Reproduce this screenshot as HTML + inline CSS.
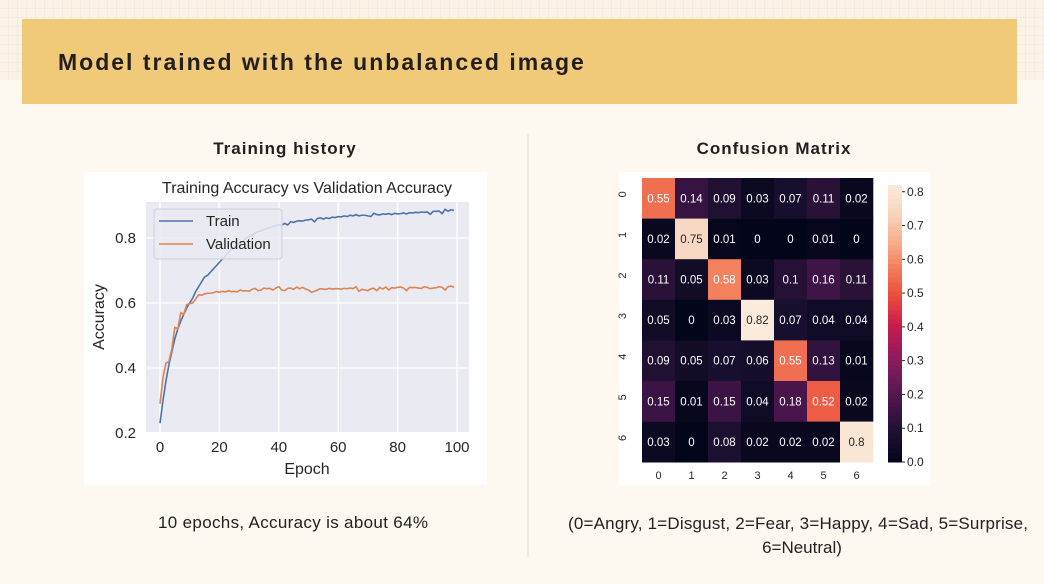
<!DOCTYPE html>
<html><head><meta charset="utf-8"><style>
body{margin:0;width:1044px;height:584px;background:#fdf9f1;overflow:hidden;font-family:"Liberation Sans",sans-serif}
svg{display:block}
</style></head><body>
<svg width="1044" height="584">
<defs>
<pattern id="grid" width="9" height="9" patternUnits="userSpaceOnUse"><path d="M9 0V9H0" fill="none" stroke="#efe3dc" stroke-width="1"/></pattern>
</defs>
<rect x="0" y="0" width="1044" height="80" fill="#fbf3e6"/>
<rect x="0" y="0" width="1044" height="80" fill="url(#grid)"/>
<rect x="22" y="19" width="995" height="85" fill="#f0ca78"/>
<text x="58" y="70" font-size="23" font-weight="bold" fill="#231f20" letter-spacing="2">Model trained with the unbalanced image</text>
<line x1="528" y1="134" x2="528" y2="557" stroke="#e2ddd5"/>
<text x="285" y="154" font-size="17" font-weight="bold" fill="#231f20" text-anchor="middle" letter-spacing="1">Training history</text>
<text x="774" y="154" font-size="17" font-weight="bold" fill="#231f20" text-anchor="middle" letter-spacing="1">Confusion Matrix</text>
<text x="293" y="528" font-size="17" fill="#222" text-anchor="middle" textLength="270">10 epochs, Accuracy is about 64%</text>
<text x="798" y="529" font-size="17" fill="#222" text-anchor="middle" textLength="460">(0=Angry, 1=Disgust, 2=Fear, 3=Happy, 4=Sad, 5=Surprise,</text>
<text x="802" y="553" font-size="17" fill="#222" text-anchor="middle">6=Neutral)</text>

<g id="lc">
<rect x="84" y="172" width="403" height="313" fill="#fff"/>
<rect x="146" y="202" width="323" height="230" fill="#eaeaf2"/>
</g>
<g id="hm">
<rect x="619" y="172" width="311" height="313" fill="#fff"/>
</g>
</svg>
<script>
const epochTicks=[0,20,40,60,80,100];
const accTicks=[0.2,0.4,0.6,0.8];
const trainAcc=[0.23,0.30,0.36,0.41,0.45,0.49,0.52,0.545,0.565,0.585,0.60,0.615,0.635,0.65,0.665,0.68,0.685,0.695,0.705,0.715,0.725,0.735,0.745,0.755,0.765,0.77,0.78,0.785,0.79,0.80,0.805,0.81,0.815,0.82,0.822,0.826,0.83,0.832,0.835,0.838,0.84,0.84,0.845,0.84,0.85,0.848,0.852,0.853,0.852,0.855,0.856,0.858,0.85,0.86,0.862,0.858,0.862,0.86,0.864,0.863,0.866,0.865,0.868,0.866,0.87,0.868,0.872,0.868,0.87,0.87,0.868,0.866,0.876,0.872,0.871,0.874,0.873,0.875,0.872,0.876,0.874,0.875,0.877,0.874,0.878,0.877,0.879,0.878,0.88,0.879,0.88,0.873,0.882,0.882,0.883,0.875,0.888,0.882,0.887,0.885];
const valAcc=[0.29,0.37,0.415,0.42,0.46,0.525,0.52,0.57,0.565,0.595,0.598,0.60,0.612,0.625,0.624,0.628,0.63,0.63,0.632,0.635,0.633,0.636,0.634,0.638,0.635,0.636,0.634,0.64,0.637,0.638,0.636,0.642,0.645,0.638,0.64,0.646,0.644,0.645,0.64,0.646,0.65,0.64,0.638,0.645,0.646,0.642,0.649,0.644,0.648,0.643,0.64,0.633,0.636,0.64,0.644,0.643,0.642,0.645,0.643,0.644,0.644,0.643,0.645,0.644,0.646,0.644,0.65,0.636,0.642,0.64,0.638,0.644,0.645,0.638,0.648,0.643,0.649,0.64,0.647,0.646,0.648,0.649,0.646,0.638,0.648,0.647,0.648,0.646,0.645,0.65,0.648,0.644,0.646,0.647,0.65,0.648,0.64,0.65,0.652,0.648];
const NS="http://www.w3.org/2000/svg";
function mk(p,t,a){const e=document.createElementNS(NS,t);for(const k in a)e.setAttribute(k,a[k]);p.appendChild(e);return e;}
const lc=document.getElementById('lc');
const X=v=>160+(v/100)*297, Y=v=>433-(v-0.2)/0.2*65;
epochTicks.forEach(t=>{const l=mk(lc,'line',{x1:X(t),x2:X(t),y1:202,y2:432,stroke:'#fff','stroke-width':1.3});

const tx=mk(lc,'text',{x:X(t),y:452,'font-size':15,fill:'#262626','text-anchor':'middle'});tx.textContent=t;
});
accTicks.forEach(t=>{if(t>0.21){const l=mk(lc,'line',{x1:146,x2:469,y1:Y(t),y2:Y(t),stroke:'#fff','stroke-width':1.3});
}
const tx=mk(lc,'text',{x:136,y:Y(t)+5,'font-size':15,fill:'#262626','text-anchor':'end'});tx.textContent=t.toFixed(1);
});
function line(arr,c,n){const p=mk(lc,'polyline',{points:arr.map((v,i)=>X(i)+','+Y(v)).join(' '),fill:'none',stroke:c,'stroke-width':1.6});
}
line(trainAcc,'#4c72b0','train-line');line(valAcc,'#dd8452','validation-line');
const lg=mk(lc,'g',{});
mk(lg,'rect',{x:154,y:209,width:128,height:50,rx:3,fill:'#eaeaf2','fill-opacity':0.85,stroke:'#d0d0d8'});
mk(lg,'line',{x1:159,x2:193,y1:221,y2:221,stroke:'#4c72b0','stroke-width':1.6});
mk(lg,'line',{x1:159,x2:193,y1:244,y2:244,stroke:'#dd8452','stroke-width':1.6});
let t1=mk(lg,'text',{x:206,y:226,'font-size':15,fill:'#262626'});t1.textContent='Train';
let t2=mk(lg,'text',{x:206,y:249,'font-size':15,fill:'#262626'});t2.textContent='Validation';
let tt=mk(lc,'text',{x:307,y:193,'font-size':16,fill:'#262626','text-anchor':'middle'});tt.textContent='Training Accuracy vs Validation Accuracy';

let xt=mk(lc,'text',{x:307,y:474,'font-size':16,fill:'#262626','text-anchor':'middle'});xt.textContent='Epoch';

let yt=mk(lc,'text',{x:104,y:317,'font-size':16,fill:'#262626','text-anchor':'middle',transform:'rotate(-90 104 317)'});yt.textContent='Accuracy';


// heatmap
const classLabels=['0','1','2','3','4','5','6'];
const cbTicks=[0,0.1,0.2,0.3,0.4,0.5,0.6,0.7,0.8];
const matrix=[[0.55,0.14,0.09,0.03,0.07,0.11,0.02],[0.02,0.75,0.01,0,0,0.01,0],[0.11,0.05,0.58,0.03,0.1,0.16,0.11],[0.05,0,0.03,0.82,0.07,0.04,0.04],[0.09,0.05,0.07,0.06,0.55,0.13,0.01],[0.15,0.01,0.15,0.04,0.18,0.52,0.02],[0.03,0,0.08,0.02,0.02,0.02,0.8]];
const stops=[[0,[3,5,26]],[0.1,[28,16,48]],[0.2,[65,20,72]],[0.3,[108,26,88]],[0.4,[153,27,90]],[0.5,[203,27,79]],[0.6,[234,77,58]],[0.7,[243,125,90]],[0.8,[246,177,143]],[0.9,[248,213,189]],[1,[250,235,221]]];
function rocket(v){v=Math.max(0,Math.min(1,v/0.82));for(let i=1;i<stops.length;i++){if(v<=stops[i][0]){const a=stops[i-1],b=stops[i],f=(v-a[0])/(b[0]-a[0]);return 'rgb('+a[1].map((c,k)=>Math.round(c+(b[1][k]-c)*f)).join(',')+')';}}return 'rgb(250,235,221)';}
const hm=document.getElementById('hm');
const CX=i=>642+i*33, CY=i=>178+i*40.6, CW=33, CH=40.6;
matrix.forEach((row,r)=>row.forEach((v,c)=>{
const rc=mk(hm,'rect',{x:CX(c),y:CY(r),width:CW+0.3,height:CH+0.3,fill:rocket(v)});

const t=mk(hm,'text',{x:CX(c)+CW/2,y:CY(r)+CH/2+4,'font-size':11.5,'text-anchor':'middle',fill:v>0.6?'#262626':'#fff'});t.textContent=String(v);
}));
classLabels.forEach((l,i)=>{
const a=mk(hm,'text',{x:CX(i)+CW/2,y:479,'font-size':11,fill:'#262626','text-anchor':'middle'});a.textContent=l;

const yy=CY(i)+CH/2;const b=mk(hm,'text',{x:630,y:yy,'font-size':11,fill:'#262626','text-anchor':'middle',transform:'rotate(-90 626 '+yy+')'});b.textContent=l;
});
const CB=v=>462-(v/0.82)*277;
for(let k=0;k<60;k++){const v0=k/60*0.82,v1=(k+1)/60*0.82;const r=mk(hm,'rect',{x:888,y:CB(v1),width:14,height:CB(v0)-CB(v1)+0.5,fill:rocket((v0+v1)/2)});
}
cbTicks.forEach(t=>{mk(hm,'line',{x1:902,x2:905,y1:CB(t),y2:CB(t),stroke:'#262626'});
const tx=mk(hm,'text',{x:907,y:CB(t)+4,'font-size':12,fill:'#262626'});tx.textContent=t.toFixed(1);
});
</script>
</body></html>
